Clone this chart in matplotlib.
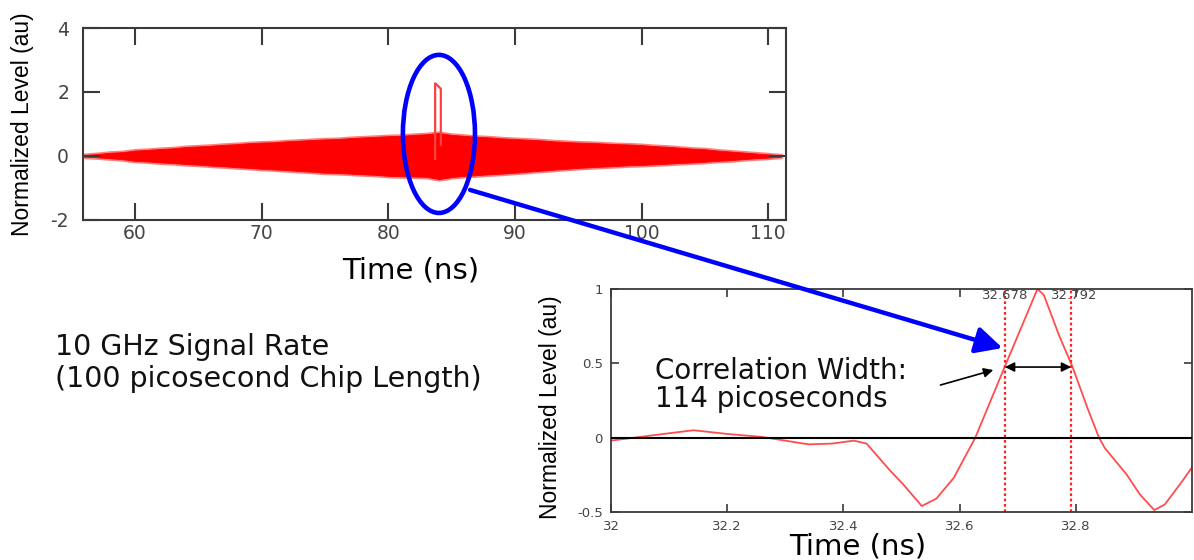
import matplotlib
matplotlib.use("Agg")
import matplotlib.pyplot as plt
from matplotlib.patches import Ellipse, ConnectionPatch, ArrowStyle

# ---------------- data ----------------
# top panel: envelope of the dense received signal
t_env = list(range(56, 112))
upper_env = [0.03, 0.06, 0.10, 0.12, 0.17, 0.19, 0.22, 0.24, 0.28, 0.30,
             0.32, 0.35, 0.37, 0.40, 0.42, 0.43, 0.46, 0.48, 0.50, 0.52,
             0.53, 0.56, 0.58, 0.60, 0.62, 0.63, 0.66, 0.68, 0.72, 0.66,
             0.63, 0.60, 0.58, 0.55, 0.53, 0.51, 0.49, 0.46, 0.44, 0.42,
             0.41, 0.39, 0.37, 0.36, 0.34, 0.31, 0.29, 0.26, 0.23, 0.21,
             0.17, 0.14, 0.11, 0.08, 0.05, 0.02]
lower_env = [-0.02, -0.04, -0.07, -0.10, -0.15, -0.17, -0.20, -0.22, -0.25, -0.27,
             -0.30, -0.32, -0.35, -0.37, -0.40, -0.42, -0.44, -0.47, -0.49, -0.52,
             -0.53, -0.55, -0.57, -0.59, -0.62, -0.63, -0.64, -0.65, -0.72, -0.66,
             -0.62, -0.60, -0.57, -0.55, -0.52, -0.49, -0.46, -0.43, -0.40, -0.37,
             -0.35, -0.33, -0.31, -0.29, -0.28, -0.26, -0.24, -0.22, -0.20, -0.18,
             -0.15, -0.13, -0.10, -0.07, -0.05, -0.02]
spike_t = [83.70, 83.70, 83.85, 84.15, 84.15]
spike_v = [-0.09, 2.27, 2.22, 2.10, 0.34]

top_xticks = [60, 70, 80, 90, 100, 110]
top_yticks = [-2, 0, 2, 4]

# bottom panel: correlation peak
corr_t = [32.0, 32.07, 32.142, 32.2, 32.26, 32.34, 32.38, 32.418, 32.44, 32.48,
          32.502, 32.535, 32.56, 32.59, 32.627, 32.678, 32.734, 32.745, 32.771,
          32.794, 32.82, 32.84, 32.85, 32.887, 32.91, 32.935, 32.953, 32.98, 33.0]
corr_v = [-0.02, 0.015, 0.05, 0.025, 0.005, -0.045, -0.04, -0.02, -0.04, -0.22,
          -0.31, -0.46, -0.41, -0.27, 0.0, 0.48, 1.0, 0.96, 0.69,
          0.48, 0.2, 0.0, -0.07, -0.245, -0.38, -0.487, -0.45, -0.31, -0.2]
half_left = 32.678
half_right = 32.792
half_level = 0.475
bot_xticks = [32, 32.2, 32.4, 32.6, 32.8]
bot_xticklabels = ["32", "32.2", "32.4", "32.6", "32.8"]
bot_yticks = [-0.5, 0, 0.5, 1]
bot_yticklabels = ["-0.5", "0", "0.5", "1"]

# ---------------- figure ----------------
W, H = 1194, 560
fig = plt.figure(figsize=(W / 100, H / 100), dpi=100)
fig.patch.set_facecolor("white")

def fx(x):
    return x / W

def fy(y):
    return 1 - y / H

spine_col = "#3a3a3a"
tick_col = "#3a3a3a"

# ---- top axes ----
ax1 = fig.add_axes([fx(83), fy(220), fx(786 - 83), (220 - 28) / H])
# light fringe (jagged anti-aliased edge) then solid body
ax1.fill_between(t_env, lower_env, upper_env, facecolor="#ff0000",
                 edgecolor="#ff8080", lw=3.0)
ax1.fill_between(t_env, lower_env, upper_env, facecolor="#ff0000",
                 edgecolor="#ff0000", lw=0.6)
ax1.plot(spike_t, spike_v, color="#ff4040", lw=1.6)
ax1.set_xlim(55.9, 111.4)
ax1.set_ylim(-2, 4)
ax1.set_xticks(top_xticks)
ax1.set_yticks(top_yticks)
ax1.set_yticklabels([str(v) for v in top_yticks])
ax1.tick_params(direction="in", length=12, width=1.5, top=True, right=True,
                color=tick_col, labelcolor="#444444", labelsize=13.5)
ax1.tick_params(axis="x", pad=3)
ax1.tick_params(axis="y", pad=10)
for s in ax1.spines.values():
    s.set_color(spine_col)
    s.set_linewidth(1.5)

ell = Ellipse((84.0, 0.69), width=5.69, height=4.94, fill=False,
              edgecolor="#0000ff", lw=3.3, clip_on=False, zorder=5)
ax1.add_patch(ell)

# ---- bottom axes ----
ax2 = fig.add_axes([fx(611), fy(512), fx(1192 - 611), (512 - 289) / H])
ax2.plot(corr_t, corr_v, color="#ff4d4d", lw=1.3)
ax2.axhline(0, color="black", lw=1.5, zorder=3)
ax2.axvline(half_left, color="#ff2020", lw=1.6, ls=(0, (1.2, 1.2)))
ax2.axvline(half_right, color="#ff2020", lw=1.6, ls=(0, (1.2, 1.2)))
ax2.set_xlim(32, 33)
ax2.set_ylim(-0.5, 1)
ax2.set_xticks(bot_xticks)
ax2.set_xticklabels(bot_xticklabels)
ax2.set_yticks(bot_yticks)
ax2.set_yticklabels(bot_yticklabels)
ax2.tick_params(direction="in", length=6, width=1.2, top=True, right=True,
                color=tick_col, labelcolor="#444444", labelsize=9.5)
ax2.tick_params(axis="x", pad=6)
ax2.tick_params(axis="y", pad=6)
for s in ax2.spines.values():
    s.set_color(spine_col)
    s.set_linewidth(1.3)

ax2.text(half_left, 0.955, "32.678", ha="center", va="center", fontsize=9.5,
         color="#444444")
ax2.text(half_right + 0.006, 0.955, "32.792", ha="center", va="center",
         fontsize=9.5, color="#444444")

ax2.annotate("", xy=(half_left, half_level), xytext=(half_right, half_level),
             arrowprops=dict(arrowstyle="<|-|>", color="black", lw=1.2,
                             mutation_scale=14, shrinkA=0, shrinkB=0))
ax2.annotate("", xy=(32.658, 0.455), xytext=(32.567, 0.354),
             arrowprops=dict(arrowstyle="-|>", color="black", lw=1.2,
                             mutation_scale=14, shrinkA=0, shrinkB=0))
ax2.text(32.075, 0.206, "Correlation Width:\n114 picoseconds", fontsize=20,
         family="DejaVu Sans", va="baseline", ha="left", color="#111111",
         linespacing=1.0)

# blue zoom arrow
con = ConnectionPatch(xyA=(86.46, -1.06), coordsA=ax1.transData,
                      xyB=(32.674, 0.603), coordsB=ax2.transData,
                      arrowstyle=ArrowStyle("-|>", head_length=0.8, head_width=0.4),
                      mutation_scale=20, lw=3.2, color="#0000ff",
                      shrinkA=0, shrinkB=0, zorder=6)
fig.add_artist(con)

# ---- figure texts ----
ylab_font = dict(family=["Liberation Sans", "DejaVu Sans"], fontsize=16.5,
                 rotation=90, ha="center", va="center", color="black")
fig.text(fx(23), fy(124), "Normalized Level (au)", **ylab_font)
fig.text(fx(550), fy(407), "Normalized Level (au)", **ylab_font)

fig.text(fx(411), fy(270), "Time (ns)", fontsize=21, ha="center", va="center",
         family="DejaVu Sans")
fig.text(fx(858), fy(547), "Time (ns)", fontsize=21, ha="center", va="center",
         family="DejaVu Sans")

fig.text(fx(55), fy(387), "10 GHz Signal Rate\n(100 picosecond Chip Length)",
         fontsize=20.5, ha="left", va="baseline", family="DejaVu Sans",
         color="#111111", linespacing=1.17)

fig.savefig("out.png", dpi=100)
